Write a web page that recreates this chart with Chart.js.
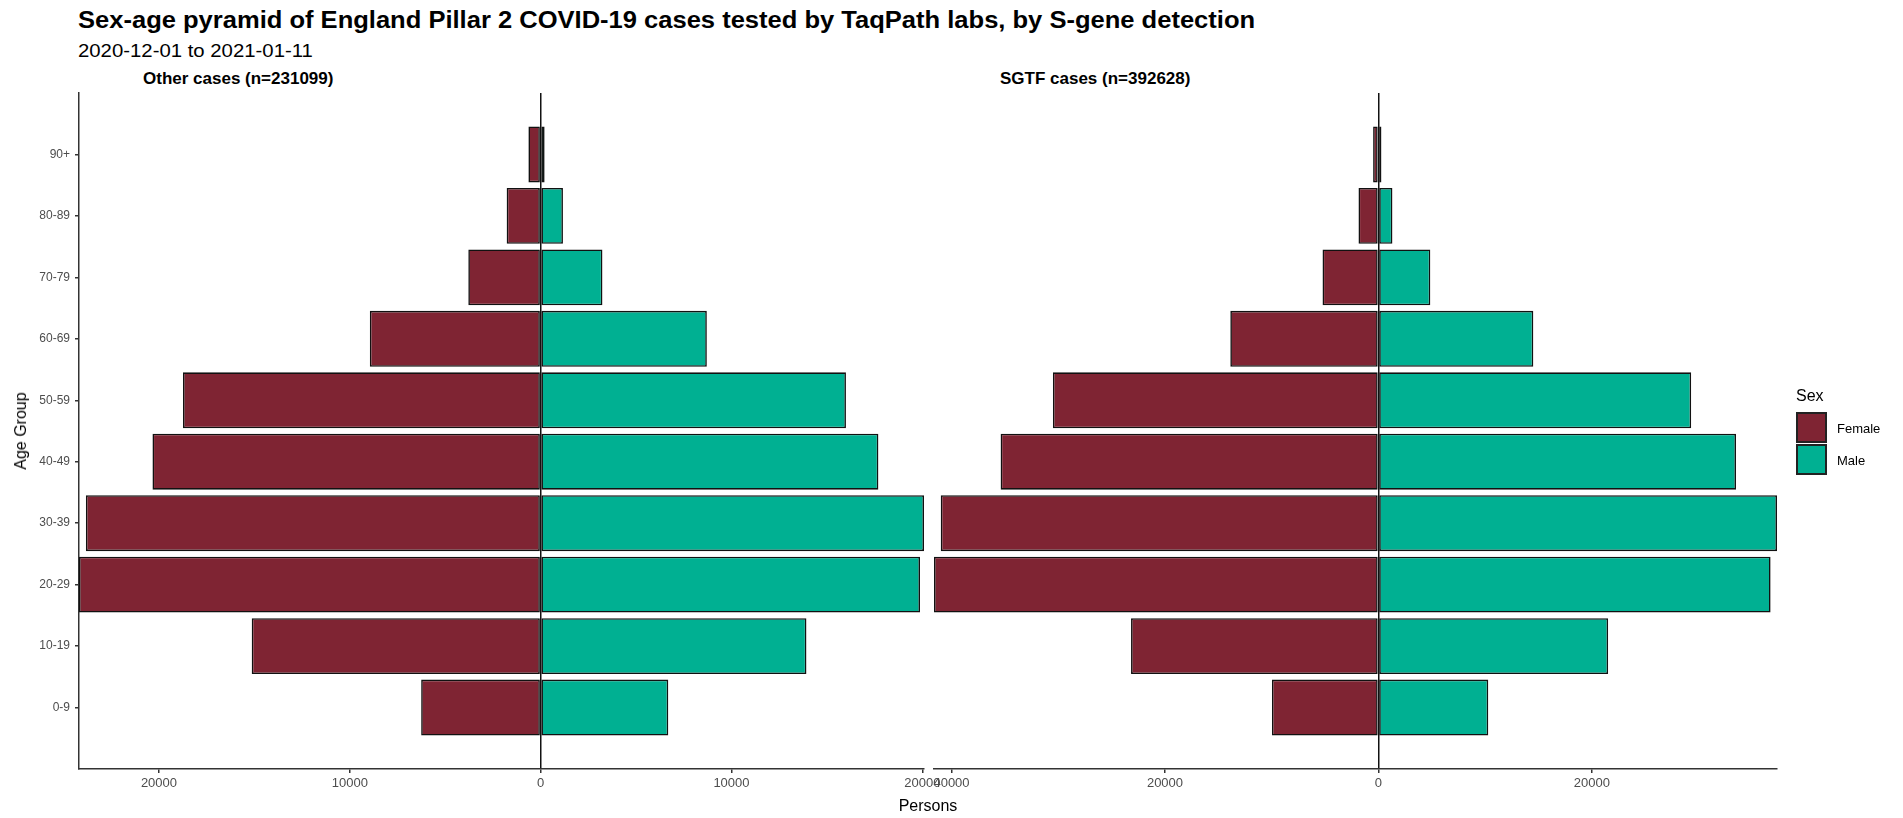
<!DOCTYPE html>
<html>
<head>
<meta charset="utf-8">
<script src="https://cdn.jsdelivr.net/npm/chart.js@4.4.0/dist/chart.umd.min.js"></script>
<style>
  html, body { margin: 0; padding: 0; background: #fff; }
  body { width: 1903px; height: 818px; position: relative; overflow: hidden; font-family: "Liberation Sans", Arial, sans-serif; color: #000; }
  canvas { position: absolute; left: 0; top: 0; }
  .txt { position: absolute; line-height: 1; white-space: nowrap; transform-origin: 0 0; }
  .box { position: absolute; width: 27px; height: 27px; border: 2px solid #222; }
</style>
</head>
<body>
<div class="txt" style="left:78px; top:9px; font-size:23px; font-weight:bold; transform:scaleX(1.11);">Sex-age pyramid of England Pillar 2 COVID-19 cases tested by TaqPath labs, by S-gene detection</div>
<div class="txt" style="left:78px; top:42px; font-size:18px; transform:scaleX(1.13);">2020-12-01 to 2021-01-11</div>
<div class="txt" style="left:143px; top:70px; font-size:17px; font-weight:bold;">Other cases (n=231099)</div>
<div class="txt" style="left:1000px; top:70px; font-size:17px; font-weight:bold;">SGTF cases (n=392628)</div>

<canvas id="otherChart" width="1903" height="818"></canvas>
<canvas id="sgtfChart" width="1903" height="818"></canvas>

<div class="txt" style="left:928px; top:798px; font-size:16px; transform:translateX(-50%);">Persons</div>
<div class="txt" style="left:21px; top:431px; font-size:16px; transform-origin:50% 50%; transform:translate(-50%,-50%) rotate(-90deg);">Age Group</div>

<!-- legend -->
<div class="txt" style="left:1796px; top:388px; font-size:16px;">Sex</div>
<div class="box" style="left:1796px; top:412px; background:#7f2433;"></div>
<div class="box" style="left:1796px; top:444px; background:#00b092;"></div>
<div class="txt" style="left:1837px; top:422px; font-size:13px;">Female</div>
<div class="txt" style="left:1837px; top:454px; font-size:13px;">Male</div>

<script>
// age bands, bottom to top
var ageGroups = ['0-9', '10-19', '20-29', '30-39', '40-49', '50-59', '60-69', '70-79', '80-89', '90+'];

// cases
var otherFemale = [6260, 15140, 24190, 23830, 20340, 18740, 8950, 3790, 1780, 640];
var otherMale   = [6690, 13930, 19880, 20090, 17700, 16000, 8710, 3240, 1170, 210];
var sgtfFemale  = [9980, 23180, 41640, 41010, 35400, 30500, 13880, 5240, 1870, 500];
var sgtfMale    = [10290, 21520, 36740, 37340, 33500, 29300, 14510, 4860, 1310, 280];

// x ticks (female shown on the left as negatives)
var otherTicks = [-20000, -10000, 0, 10000, 20000];
var sgtfTicks  = [-40000, -20000, 0, 20000];

var femaleColour = '#7f2433';
var maleColour = '#00b092';

function toPoints(values, sign) {
  return values.map(function (v, i) { return { x: sign * v, y: i }; });
}

function pyramid(id, female, male, tickValues, pad, showAges) {
  var ctx = document.getElementById(id).getContext('2d');
  return new Chart(ctx, {
    type: 'bar',
    data: {
      datasets: [{
        label: 'Female',
        data: toPoints(female, -1),
        backgroundColor: femaleColour,
        borderColor: '#111',
        borderWidth: 1.6,
        borderSkipped: false,
        stack: 'sex'
      }, {
        label: 'Male',
        data: toPoints(male, 1),
        backgroundColor: maleColour,
        borderColor: '#111',
        borderWidth: 1.6,
        borderSkipped: false,
        stack: 'sex'
      }]
    },
    options: {
      indexAxis: 'y',
      responsive: false,
      animation: false,
      categoryPercentage: 1,
      barPercentage: 0.91,
      layout: { padding: pad },
      plugins: {
        legend: { display: false },
        tooltip: { enabled: false }
      },
      scales: {
        x: {
          type: 'linear',
          stacked: true,
          min: -Math.max.apply(null, female),
          max: Math.max.apply(null, male),
          afterBuildTicks: function (axis) {
            axis.ticks = tickValues.map(function (v) { return { value: v }; });
          },
          ticks: {
            autoSkip: false,
            maxRotation: 0,
            padding: 3,
            color: '#4d4d4d',
            font: { family: 'Liberation Sans', size: 13 },
            callback: function (v) { return Math.abs(v); }
          },
          grid: {
            drawOnChartArea: true,
            color: function (c) { return c.tick && c.tick.value === 0 ? '#111' : 'rgba(0,0,0,0)'; },
            lineWidth: 1.5,
            tickColor: '#333',
            tickLength: 4
          },
          border: { display: true, color: '#333', width: 1.5 },
          afterFit: function (s) { s.height = 49; }
        },
        y: {
          type: 'linear',
          stacked: true,
          offset: false,
          display: showAges,
          min: -1,
          max: ageGroups.length,
          afterBuildTicks: function (axis) {
            axis.ticks = axis.ticks.filter(function (t) { return t.value >= 0 && t.value < ageGroups.length; });
          },
          ticks: {
            stepSize: 1,
            autoSkip: false,
            padding: 5,
            color: '#4d4d4d',
            font: { family: 'Liberation Sans', size: 12 },
            callback: function (v) { return ageGroups[v]; }
          },
          grid: { offset: false, drawOnChartArea: false, tickLength: 4, tickColor: '#333', lineWidth: 1.5 },
          border: { display: true, color: '#333', width: 1.5 },
          afterFit: function (s) { s.width = showAges ? 79 : 0; }
        }
      }
    }
  });
}

window.onload = function () {
  pyramid('otherChart', otherFemale, otherMale, otherTicks, { left: 0, right: 979, top: 93, bottom: 0 }, true);
  pyramid('sgtfChart', sgtfFemale, sgtfMale, sgtfTicks, { left: 934, right: 126, top: 93, bottom: 0 }, false);
};
</script>
</body>
</html>
